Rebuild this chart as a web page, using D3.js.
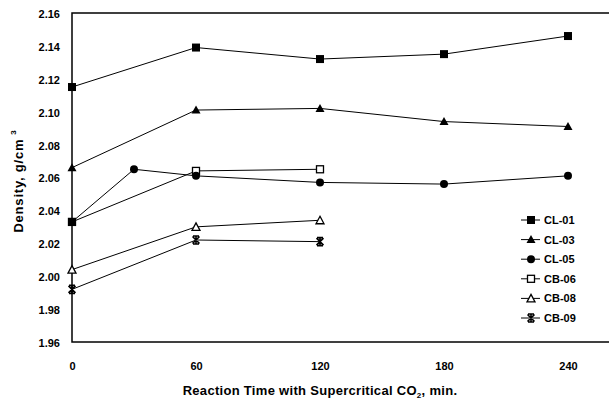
<!DOCTYPE html>
<html lang="en">
<head>
<meta charset="utf-8">
<title>Density vs reaction time</title>
<script src="https://d3js.org/d3.v7.min.js"></script>
<style>
  body { margin: 0; background: #fff; }
  text { font-family: "Liberation Sans", Arial, sans-serif; font-weight: bold; fill: #000; }
</style>
</head>
<body>
<script>
// data
var seriesNames = ["CL-01", "CL-03", "CL-05", "CB-06", "CB-08", "CB-09"];
var symbols = ["square", "triangle", "circle", "squareOpen", "triangleOpen", "star"];
var times = [
  [0, 60, 120, 180, 240],
  [0, 60, 120, 180, 240],
  [0, 30, 60, 120, 180, 240],
  [0, 60, 120],
  [0, 60, 120],
  [0, 60, 120]
];
var densities = [
  [2.115, 2.139, 2.132, 2.135, 2.146],
  [2.066, 2.101, 2.102, 2.094, 2.091],
  [2.033, 2.065, 2.061, 2.057, 2.056, 2.061],
  [2.033, 2.064, 2.065],
  [2.004, 2.030, 2.034],
  [1.992, 2.022, 2.021]
];
var xTicks = [0, 60, 120, 180, 240];
var yTicks = [1.96, 1.98, 2.00, 2.02, 2.04, 2.06, 2.08, 2.10, 2.12, 2.14, 2.16];

var w = 609, h = 400;
var plotLeft = 72, plotTop = 13, plotBottom = 342;

var svg = d3.select("body").append("svg")
  .attr("width", w).attr("height", h);

var xScale = d3.scaleLinear().domain([0, 240]).range([plotLeft, 568]);
var yScale = d3.scaleLinear().domain([1.96, 2.16]).range([plotBottom, plotTop]);

// plot frame (right side runs off the picture)
svg.append("rect")
  .attr("x", plotLeft).attr("y", plotTop)
  .attr("width", 660 - plotLeft).attr("height", plotBottom - plotTop)
  .attr("fill", "none").attr("stroke", "#000").attr("stroke-width", 1.5);

// Y axis labels
var yAxis = d3.axisLeft(yScale).tickValues(yTicks).tickSize(0).tickPadding(12)
  .tickFormat(d3.format(".2f"));
var gy = svg.append("g").attr("transform", "translate(" + plotLeft + ",0)").call(yAxis);
gy.select(".domain").remove();
gy.selectAll("text").attr("font-size", "11px").attr("dy", "0.4em");

// X axis labels
var xAxis = d3.axisBottom(xScale).tickValues(xTicks).tickSize(0).tickPadding(20);
var gx = svg.append("g").attr("transform", "translate(0," + plotBottom + ")").call(xAxis);
gx.select(".domain").remove();
gx.selectAll("text").attr("font-size", "11px");

// axis titles
var xt = svg.append("text")
  .attr("x", 320).attr("y", 395)
  .attr("text-anchor", "middle").attr("font-size", "13px")
  .attr("letter-spacing", "0.3px");
xt.append("tspan").text("Reaction Time with Supercritical CO");
xt.append("tspan").text("2").attr("font-size", "8px").attr("dy", "3");
xt.append("tspan").text(", min.").attr("dy", "-3");

var yt = svg.append("text")
  .attr("transform", "translate(23,181) rotate(-90)")
  .attr("text-anchor", "middle").attr("font-size", "13px")
  .attr("letter-spacing", "0.8px");
yt.append("tspan").text("Density, g/cm");
yt.append("tspan").text("3").attr("font-size", "8px").attr("dx", "4").attr("dy", "-7");

function drawMarker(g, kind, x, y) {
  if (kind === "square") {
    g.append("rect").attr("x", x - 4).attr("y", y - 4).attr("width", 8).attr("height", 8).attr("fill", "#000");
  } else if (kind === "squareOpen") {
    g.append("rect").attr("x", x - 3.5).attr("y", y - 3.5).attr("width", 7).attr("height", 7)
      .attr("fill", "#fff").attr("stroke", "#000").attr("stroke-width", 1.3);
  } else if (kind === "triangle") {
    g.append("path").attr("d", "M" + x + "," + (y - 4.5) + "L" + (x + 4.5) + "," + (y + 3.5) + "L" + (x - 4.5) + "," + (y + 3.5) + "Z").attr("fill", "#000");
  } else if (kind === "triangleOpen") {
    g.append("path").attr("d", "M" + x + "," + (y - 4) + "L" + (x + 4) + "," + (y + 3.5) + "L" + (x - 4) + "," + (y + 3.5) + "Z")
      .attr("fill", "#fff").attr("stroke", "#000").attr("stroke-width", 1.3);
  } else if (kind === "circle") {
    g.append("circle").attr("cx", x).attr("cy", y).attr("r", 4).attr("fill", "#000");
  } else if (kind === "star") {
    g.append("path").attr("d", "M" + (x - 3.5) + "," + (y - 3.5) + "L" + (x + 3.5) + "," + (y + 3.5) +
      "M" + (x + 3.5) + "," + (y - 3.5) + "L" + (x - 3.5) + "," + (y + 3.5) +
      "M" + (x - 3) + "," + (y - 4) + "L" + (x + 3) + "," + (y - 4) +
      "M" + (x - 3) + "," + (y + 4) + "L" + (x + 3) + "," + (y + 4) +
      "M" + x + "," + (y - 4) + "L" + x + "," + (y + 4))
      .attr("stroke", "#000").attr("stroke-width", 1.6).attr("fill", "none");
  }
}

var line = d3.line()
  .x(function(d) { return xScale(d[0]); })
  .y(function(d) { return yScale(d[1]); });

// draw lines first, then markers in reverse order so filled ones sit on top
seriesNames.forEach(function(name, i) {
  var pts = d3.zip(times[i], densities[i]);
  svg.append("path").attr("d", line(pts))
    .attr("fill", "none").attr("stroke", "#000").attr("stroke-width", 1);
});
seriesNames.slice().reverse().forEach(function(name, k) {
  var i = seriesNames.length - 1 - k;
  var g = svg.append("g");
  d3.zip(times[i], densities[i]).forEach(function(p) {
    drawMarker(g, symbols[i], xScale(p[0]), yScale(p[1]));
  });
});

// legend
var legend = svg.append("g").attr("transform", "translate(521,220)");
seriesNames.forEach(function(name, i) {
  var row = legend.append("g").attr("transform", "translate(0," + (i * 19.6) + ")");
  row.append("line").attr("x1", 0).attr("x2", 19).attr("y1", 0).attr("y2", 0)
    .attr("stroke", "#000").attr("stroke-width", 1);
  drawMarker(row, symbols[i], 10, 0);
  row.append("text").attr("x", 23).attr("y", 4).attr("font-size", "11px").text(name);
});
</script>
</body>
</html>
